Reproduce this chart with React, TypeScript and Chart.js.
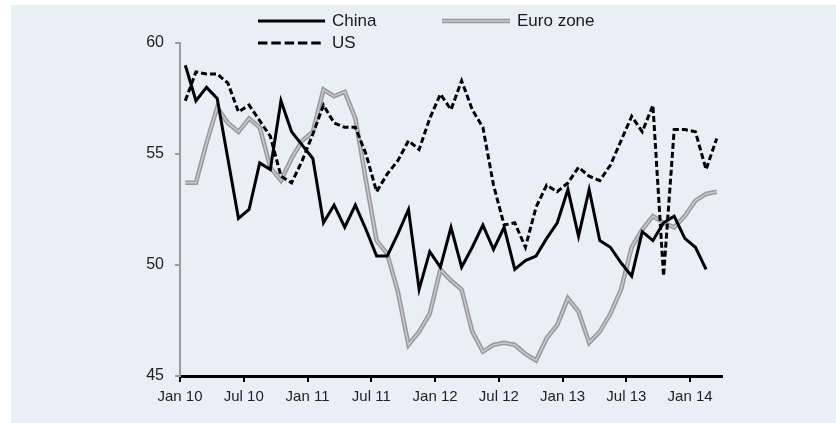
import React, { useEffect, useRef } from 'react';
import { Chart, registerables } from 'chart.js';

Chart.register(...registerables);

const months = [
  'Jan 10', 'Feb 10', 'Mar 10', 'Apr 10', 'May 10', 'Jun 10', 'Jul 10', 'Aug 10', 'Sep 10', 'Oct 10', 'Nov 10', 'Dec 10',
  'Jan 11', 'Feb 11', 'Mar 11', 'Apr 11', 'May 11', 'Jun 11', 'Jul 11', 'Aug 11', 'Sep 11', 'Oct 11', 'Nov 11', 'Dec 11',
  'Jan 12', 'Feb 12', 'Mar 12', 'Apr 12', 'May 12', 'Jun 12', 'Jul 12', 'Aug 12', 'Sep 12', 'Oct 12', 'Nov 12', 'Dec 12',
  'Jan 13', 'Feb 13', 'Mar 13', 'Apr 13', 'May 13', 'Jun 13', 'Jul 13', 'Aug 13', 'Sep 13', 'Oct 13', 'Nov 13', 'Dec 13',
  'Jan 14', 'Feb 14', 'Mar 14',
];

const tickLabels = ['Jan 10', 'Jul 10', 'Jan 11', 'Jul 11', 'Jan 12', 'Jul 12', 'Jan 13', 'Jul 13', 'Jan 14'];
const tickStep = 6;

const china = [
  59.0, 57.4, 58.0, 57.5, 54.8, 52.1, 52.5, 54.6, 54.3, 57.4, 56.0, 55.4,
  54.8, 51.9, 52.7, 51.7, 52.7, 51.6, 50.4, 50.4, 51.4, 52.5, 48.9, 50.6,
  49.9, 51.7, 49.9, 50.8, 51.8, 50.7, 51.7, 49.8, 50.2, 50.4, 51.2, 51.9,
  53.4, 51.3, 53.4, 51.1, 50.8, 50.1, 49.5, 51.5, 51.1, 51.9, 52.2, 51.2,
  50.8, 49.8,
];

const euroZone = [
  53.7, 53.7, 55.5, 57.1, 56.4, 56.0, 56.6, 56.2, 54.4, 53.8, 54.8, 55.6,
  56.0, 57.9, 57.6, 57.8, 56.6, 53.8, 51.1, 50.5, 48.8, 46.4, 47.0, 47.8,
  49.8, 49.3, 48.9, 47.0, 46.1, 46.4, 46.5, 46.4, 46.0, 45.7, 46.7, 47.3,
  48.5, 47.9, 46.5, 47.0, 47.8, 48.9, 50.8, 51.6, 52.2, 51.9, 51.7, 52.2,
  52.9, 53.2, 53.3,
];

const us = [
  57.4, 58.7, 58.6, 58.6, 58.2, 56.9, 57.2, 56.5, 55.8, 54.0, 53.7, 54.7,
  55.9, 57.2, 56.4, 56.2, 56.2, 55.0, 53.3, 54.1, 54.7, 55.6, 55.2, 56.6,
  57.7, 57.0, 58.3, 57.0, 56.2, 53.6, 51.8, 51.9, 50.8, 52.6, 53.6, 53.3,
  53.7, 54.4, 54.0, 53.8, 54.5, 55.6, 56.7, 56.0, 57.2, 49.5, 56.1, 56.1,
  56.0, 54.3, 55.7,
];

const FONT = '"Liberation Sans", Arial, sans-serif';
const EURO_OUTER = '#999999';
const EURO_INNER = '#c8cbcd';

export default function App() {
  const ref = useRef<HTMLCanvasElement>(null);

  useEffect(() => {
    const toPts = (arr: number[]) => arr.map((v, i) => ({ x: i + 0.5, y: v, m: months[i] }));

    const bgPlugin = {
      id: 'bgPanel',
      beforeDraw(chart: any) {
        const { ctx, width, height } = chart;
        ctx.save();
        ctx.fillStyle = '#ffffff';
        ctx.fillRect(0, 0, width, height);
        ctx.fillStyle = '#e8f0f4';
        ctx.fillRect(11, 5, width - 11, height - 5);
        ctx.restore();
      },
    };

    const legendPlugin = {
      id: 'customLegend',
      afterDraw(chart: any) {
        const ctx = chart.ctx;
        ctx.save();
        const seg = (x1: number, x2: number, y: number, color: string, w: number, dash: number[]) => {
          ctx.beginPath();
          ctx.setLineDash(dash);
          ctx.strokeStyle = color;
          ctx.lineWidth = w;
          ctx.moveTo(x1, y);
          ctx.lineTo(x2, y);
          ctx.stroke();
        };
        seg(258, 325, 21, '#000', 3, []);
        seg(442, 510, 21, EURO_OUTER, 4.5, []);
        seg(442, 510, 21, EURO_INNER, 1.5, []);
        seg(258, 322, 43, '#000', 3, [9.5, 3.8]);
        ctx.setLineDash([]);
        ctx.font = '17px ' + FONT;
        ctx.fillStyle = '#1a1a1a';
        ctx.textBaseline = 'middle';
        ctx.textAlign = 'left';
        ctx.fillText(chart.data.datasets[0].label, 332, 21);
        ctx.fillText(chart.data.datasets[3].label, 517, 21);
        ctx.fillText(chart.data.datasets[1].label, 332, 43);
        ctx.restore();
      },
    };

    const chart = new Chart(ref.current!, {
      type: 'line',
      data: {
        datasets: [
          { label: 'China', data: toPts(china), borderColor: '#000', borderWidth: 3, pointRadius: 0 },
          { label: 'US', data: toPts(us), borderColor: '#000', borderWidth: 3, borderDash: [6, 3], pointRadius: 0 },
          { label: 'inner', data: toPts(euroZone), borderColor: EURO_INNER, borderWidth: 1.5, pointRadius: 0 },
          { label: 'Euro zone', data: toPts(euroZone), borderColor: EURO_OUTER, borderWidth: 4.5, pointRadius: 0 },
        ],
      },
      options: {
        animation: false,
        responsive: false,
        parsing: { xAxisKey: 'x', yAxisKey: 'y' },
        layout: { padding: { top: 43, right: 114, bottom: 0, left: 0 } },
        plugins: { legend: { display: false }, tooltip: { enabled: false } },
        scales: {
          x: {
            type: 'linear',
            min: 0,
            max: months.length,
            afterFit(s: any) { s.height = 47; },
            afterBuildTicks(s: any) { s.ticks = tickLabels.map((_, k) => ({ value: k * tickStep })); },
            ticks: {
              callback: (_v: any, i: number) => tickLabels[i],
              color: '#222',
              font: { size: 15, family: FONT },
              padding: 6,
              maxRotation: 0,
              autoSkip: false,
            },
            grid: { drawOnChartArea: false, drawTicks: true, tickLength: 6, color: '#000', lineWidth: 2 },
            border: { display: true, color: '#000', width: 3 },
          },
          y: {
            min: 45,
            max: 60,
            afterFit(s: any) { s.width = 180; },
            ticks: { stepSize: 5, color: '#222', font: { size: 16, family: FONT }, padding: 11 },
            grid: { drawOnChartArea: false, drawTicks: true, tickLength: 5, color: '#999', lineWidth: 2 },
            border: { display: true, color: '#9a9a9a', width: 2 },
          },
        },
      },
      plugins: [bgPlugin, legendPlugin],
    } as any);

    return () => chart.destroy();
  }, []);

  return (
    <div style={{ position: 'absolute', left: 0, top: 0, width: 836, height: 423 }}>
      <canvas ref={ref} width={836} height={423} />
    </div>
  );
}
